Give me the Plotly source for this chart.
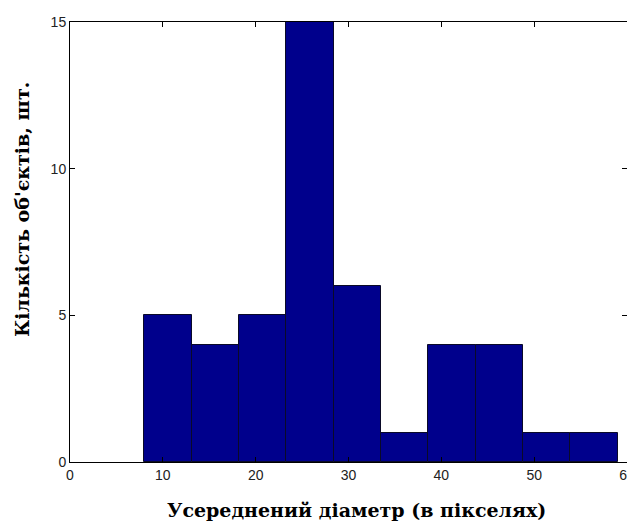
import plotly.graph_objects as go

bin_edges = [8.0, 13.1, 18.2, 23.3, 28.4, 33.5, 38.6, 43.7, 48.8, 53.9, 59.0]
counts = [5, 4, 5, 15, 6, 1, 4, 4, 1, 1]
x_ticks = [0, 10, 20, 30, 40, 50, 60]
y_ticks = [0, 5, 10, 15]
x_title = "Усереднений діаметр (в пікселях)"
y_title = "Кількість об'єктів, шт."

centers = [(a + b) / 2 for a, b in zip(bin_edges[:-1], bin_edges[1:])]
widths = [b - a for a, b in zip(bin_edges[:-1], bin_edges[1:])]

fig = go.Figure(go.Bar(
    x=centers, y=counts, width=widths,
    marker=dict(color="rgb(0,0,140)", line=dict(color="rgb(10,10,40)", width=1)),
))

tickfont = dict(family="Liberation Sans, Arial, sans-serif", size=14, color="#222")
titlefont = dict(family="DejaVu Serif, serif", size=19, color="black")

axis_common = dict(
    ticks="inside", ticklen=5, tickcolor="black",
    showline=True, linecolor="black", linewidth=1, mirror="ticks",
    showgrid=False, zeroline=False, tickfont=tickfont, automargin=False,
    ticklabeloverflow="allow",
)

# the page body adds an 8px offset, so margins are shifted by 8px
fig.update_layout(
    width=635, height=525,
    margin=dict(l=62, r=16, t=14, b=71),
    plot_bgcolor="white", paper_bgcolor="white",
    showlegend=False,
    bargap=0,
    xaxis=dict(range=[0, 60], tickvals=x_ticks, **axis_common),
    yaxis=dict(range=[0, 15], tickvals=y_ticks, **axis_common),
    annotations=[
        dict(text="<b>" + x_title + "</b>", xref="paper", yref="paper",
             x=0.515, y=-0.108, xanchor="center", yanchor="middle",
             showarrow=False, font=titlefont),
        dict(text="<b>" + y_title + "</b>", xref="paper", yref="paper",
             x=-0.086, y=0.573, xanchor="center", yanchor="middle",
             textangle=-90, showarrow=False, font=titlefont),
    ],
)

fig.write_html("out.html")
